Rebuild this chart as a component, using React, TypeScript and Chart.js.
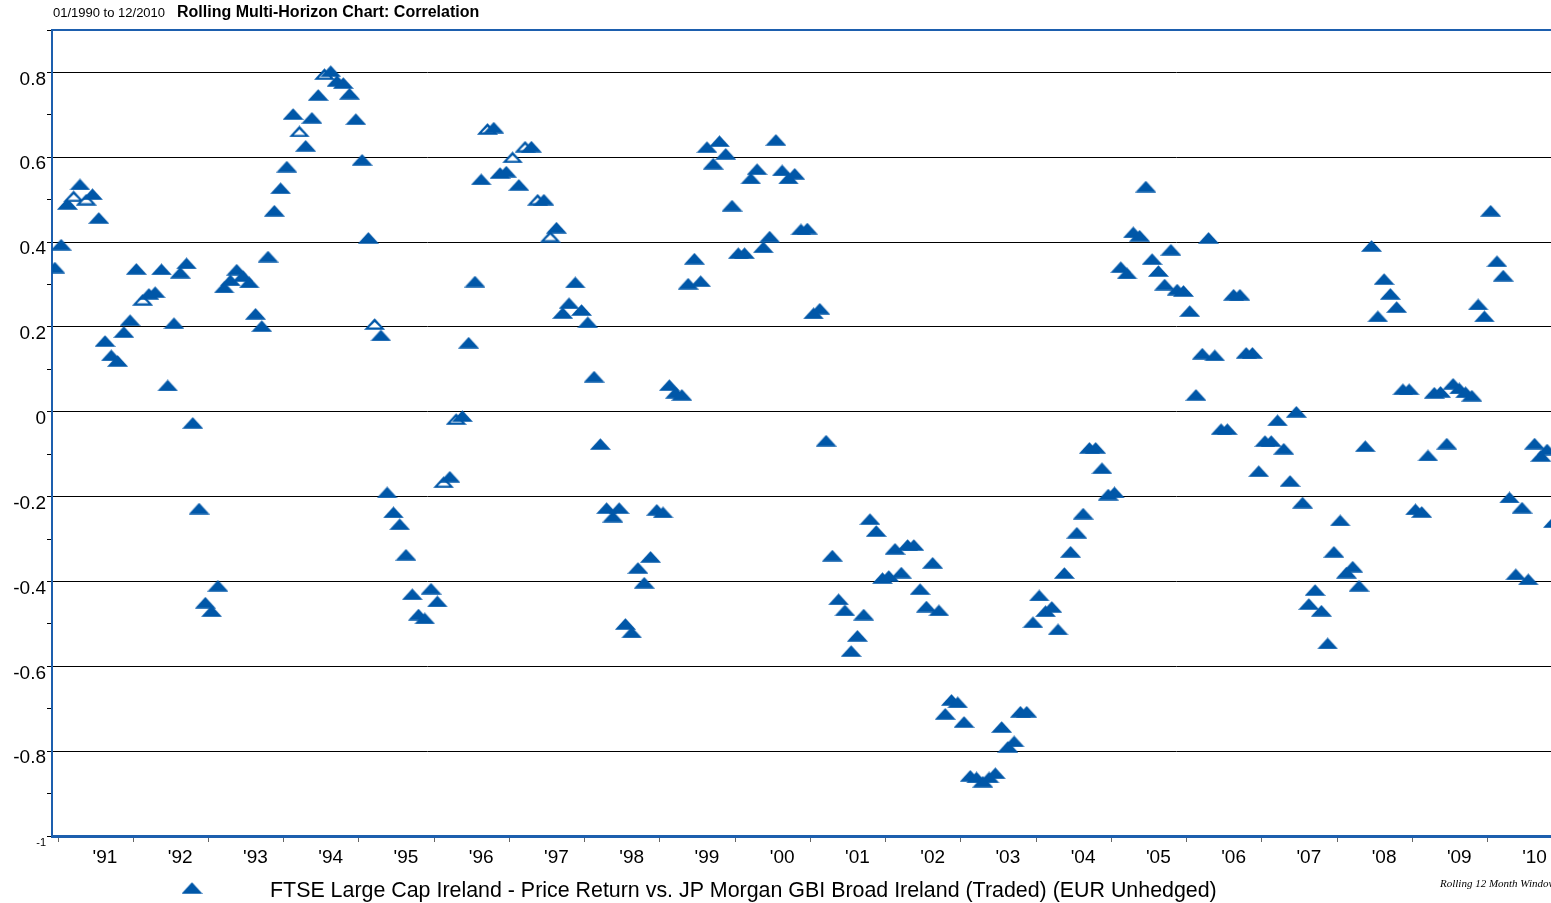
import { useEffect, useRef } from 'react';
import { Chart, registerables } from 'chart.js';

Chart.register(...registerables);

const periodLabel = '01/1990 to 12/2010';
const chartTitle = 'Rolling Multi-Horizon Chart: Correlation';
const seriesName =
  'FTSE Large Cap Ireland - Price Return vs. JP Morgan GBI Broad Ireland (Traded) (EUR Unhedged)';
const windowNote = 'Rolling 12 Month Window';

const yearLabels = ["'91", "'92", "'93", "'94", "'95", "'96", "'97", "'98", "'99", "'00",
  "'01", "'02", "'03", "'04", "'05", "'06", "'07", "'08", "'09", "'10"];

// Rolling 12-month correlation, one value per month-end (Jan..Dec)
const corr1990 = [0.34]; // Dec 1990
const corr1991 = [0.394, 0.49, 0.508, 0.536, 0.5, 0.513, 0.457, 0.167, 0.133, 0.12, 0.188, 0.216];
const corr1992 = [0.337, 0.264, 0.278, 0.282, 0.336, 0.062, 0.209, 0.328, 0.35, -0.026, -0.228, -0.45];
const corr1993 = [-0.47, -0.41, 0.293, 0.31, 0.335, 0.32, 0.305, 0.231, 0.202, 0.366, 0.474, 0.527];
const corr1994 = [0.578, 0.702, 0.661, 0.627, 0.693, 0.747, 0.796, 0.803, 0.78, 0.775, 0.75, 0.69];
const corr1995 = [0.594, 0.41, 0.207, 0.18, -0.19, -0.237, -0.265, -0.337, -0.43, -0.478, -0.487, -0.417];
const corr1996 = [-0.447, -0.166, -0.153, -0.017, -0.01, 0.163, 0.307, 0.548, 0.667, 0.67, 0.563, 0.566];
const corr1997 = [0.6, 0.535, 0.625, 0.625, 0.5, 0.5, 0.413, 0.434, 0.233, 0.256, 0.305, 0.24];
const corr1998 = [0.211, 0.083, -0.076, -0.227, -0.247, -0.227, -0.5, -0.52, -0.368, -0.403, -0.342, -0.231];
const corr1999 = [-0.237, 0.063, 0.045, 0.04, 0.302, 0.361, 0.308, 0.624, 0.585, 0.638, 0.608, 0.486];
const corr2000 = [0.374, 0.374, 0.55, 0.572, 0.388, 0.413, 0.641, 0.569, 0.55, 0.561, 0.43, 0.432];
const corr2001 = [0.232, 0.243, -0.068, -0.339, -0.442, -0.468, -0.564, -0.528, -0.478, -0.253, -0.281, -0.392];
const corr2002 = [-0.387, -0.323, -0.379, -0.314, -0.314, -0.418, -0.459, -0.356, -0.468, -0.712, -0.679, -0.685];
const corr2003 = [-0.731, -0.858, -0.862, -0.872, -0.862, -0.852, -0.743, -0.79, -0.777, -0.707, -0.707, -0.496];
const corr2004 = [-0.433, -0.47, -0.46, -0.513, -0.38, -0.33, -0.285, -0.24, -0.085, -0.085, -0.133, -0.195];
const corr2005 = [-0.19, 0.341, 0.326, 0.423, 0.415, 0.531, 0.36, 0.332, 0.3, 0.382, 0.288, 0.285];
const corr2006 = [0.2375, 0.04, 0.137, 0.41, 0.133, -0.041, -0.041, 0.276, 0.276, 0.139, 0.139, -0.14];
const corr2007 = [-0.069, -0.069, -0.02, -0.087, -0.163, 0.0, -0.214, -0.453, -0.42, -0.469, -0.546, -0.33];
const corr2008 = [-0.256, -0.379, -0.365, -0.41, -0.081, 0.391, 0.225, 0.313, 0.278, 0.247, 0.053, 0.053];
const corr2009 = [-0.23, -0.236, -0.103, 0.045, 0.047, -0.075, 0.066, 0.055, 0.046, 0.038, 0.253, 0.225];
const corr2010 = [0.474, 0.355, 0.321, -0.202, -0.383, -0.226, -0.395, -0.075, -0.104, -0.089, -0.26, -0.3];

// month indexes (0 = Dec 1990) drawn with an open marker
const hollowPoints = [3, 5, 14, 39, 43, 51, 62, 64, 69, 73, 75, 77, 79];

const BLUE = '#0057a8';
const LINE_BLUE = '#1d5fae';
const FONT = '"Liberation Sans", Arial, sans-serif';

function makeTriangle(hollow: boolean) {
  const c = document.createElement('canvas');
  c.width = 21;
  c.height = 12;
  const g = c.getContext('2d')!;
  g.beginPath();
  g.moveTo(10.5, 0.3);
  g.lineTo(21, 11.7);
  g.lineTo(0, 11.7);
  g.closePath();
  g.fillStyle = BLUE;
  g.fill();
  if (hollow) {
    g.beginPath();
    g.moveTo(10.5, 4);
    g.lineTo(16.2, 9.6);
    g.lineTo(4.8, 9.6);
    g.closePath();
    g.fillStyle = '#ffffff';
    g.fill();
  }
  return c;
}

export default function App() {
  const ref = useRef<HTMLCanvasElement | null>(null);

  useEffect(() => {
    const canvas = ref.current;
    if (!canvas) return;
    const filled = makeTriangle(false);
    const hollow = makeTriangle(true);
    const hollowSet = new Set(hollowPoints);

    const series = [
      ...corr1990, ...corr1991, ...corr1992, ...corr1993, ...corr1994, ...corr1995,
      ...corr1996, ...corr1997, ...corr1998, ...corr1999, ...corr2000, ...corr2001,
      ...corr2002, ...corr2003, ...corr2004, ...corr2005, ...corr2006, ...corr2007,
      ...corr2008, ...corr2009, ...corr2010,
    ];
    // x = months since Jan 1991, points at mid-month
    const points = series.map((v, i) => ({ x: i - 0.5, y: v }));

    const decor = {
      id: 'decor',
      afterDraw(chart: any) {
        const ctx = chart.ctx;
        const a = chart.chartArea;
        ctx.save();
        // top frame line
        ctx.strokeStyle = LINE_BLUE;
        ctx.lineWidth = 2;
        ctx.beginPath();
        ctx.moveTo(a.left - 1, a.top);
        ctx.lineTo(a.right, a.top);
        ctx.stroke();
        // header
        ctx.fillStyle = '#000';
        ctx.textBaseline = 'alphabetic';
        ctx.font = `13px ${FONT}`;
        ctx.fillText(periodLabel, 53, 17);
        ctx.font = `bold 16px ${FONT}`;
        ctx.fillText(chartTitle, 177, 17);
        // legend
        ctx.drawImage(filled, 192 - 10.5, 888 - 6);
        ctx.font = `21.4px ${FONT}`;
        ctx.fillText(seriesName, 270, 897);
        ctx.font = `italic 11px "Liberation Serif", "Times New Roman", serif`;
        ctx.fillText(windowNote, 1440, 887);
        ctx.restore();
      },
    };

    const chart = new Chart(canvas, {
      type: 'scatter',
      data: {
        datasets: [
          {
            label: seriesName,
            data: points,
            pointStyle: (c: any) => (hollowSet.has(c.dataIndex) ? hollow : filled),
            pointRadius: 5,
            showLine: false,
          },
        ],
      },
      options: {
        responsive: false,
        animation: false,
        events: [],
        layout: { autoPadding: false, padding: { top: 30, left: 0, right: 0, bottom: 37 } },
        plugins: { legend: { display: false }, title: { display: false }, tooltip: { enabled: false } },
        scales: {
          x: {
            type: 'linear',
            min: -0.957,
            max: 238.12,
            afterFit: (s: any) => { s.height = 30; },
            afterBuildTicks: (s: any) => {
              s.ticks = yearLabels.map((_, k) => ({ value: k * 12 }));
            },
            ticks: {
              autoSkip: false,
              maxRotation: 0,
              labelOffset: 47,
              padding: 4,
              color: '#000',
              font: { family: FONT, size: 19 },
              callback: (v: any) => yearLabels[Math.round(Number(v) / 12)] ?? '',
            },
            grid: { drawOnChartArea: false, tickLength: 6, tickColor: '#666', lineWidth: 1 },
            border: { color: LINE_BLUE, width: 3 },
          },
          y: {
            min: -1,
            max: 0.9,
            afterFit: (s: any) => { s.width = 52; },
            afterBuildTicks: (s: any) => {
              const t = [];
              for (let k = 0; k <= 19; k++) t.push({ value: Math.round(-10 + k) / 10 });
              s.ticks = t;
            },
            ticks: {
              autoSkip: false,
              padding: 1,
              labelOffset: 7,
              color: '#000',
              font: (c: any) =>
                c.tick && c.tick.value === -1 ? { family: FONT, size: 11 } : { family: FONT, size: 19 },
              callback: (v: any) => {
                const n = Math.round(Number(v) * 10);
                if (n % 2 !== 0 || n >= 9) return '';
                if (n === 0) return '0';
                if (n === -10) return '-1';
                return (n / 10).toFixed(1);
              },
            },
            grid: {
              color: (c: any) => {
                const n = Math.round((c.tick ? c.tick.value : 0) * 10);
                return n % 2 === 0 && n < 9 ? '#000' : 'rgba(0,0,0,0)';
              },
              tickColor: '#000',
              tickLength: 5,
              lineWidth: 1,
            },
            border: { color: LINE_BLUE, width: 2 },
          },
        },
      },
      plugins: [decor],
    } as any);

    return () => chart.destroy();
  }, []);

  return (
    <div style={{ position: 'fixed', left: 0, top: 0, width: 1551, height: 903, background: '#fff', overflow: 'hidden' }}>
      <canvas ref={ref} width={1551} height={903} style={{ display: 'block' }} />
    </div>
  );
}
